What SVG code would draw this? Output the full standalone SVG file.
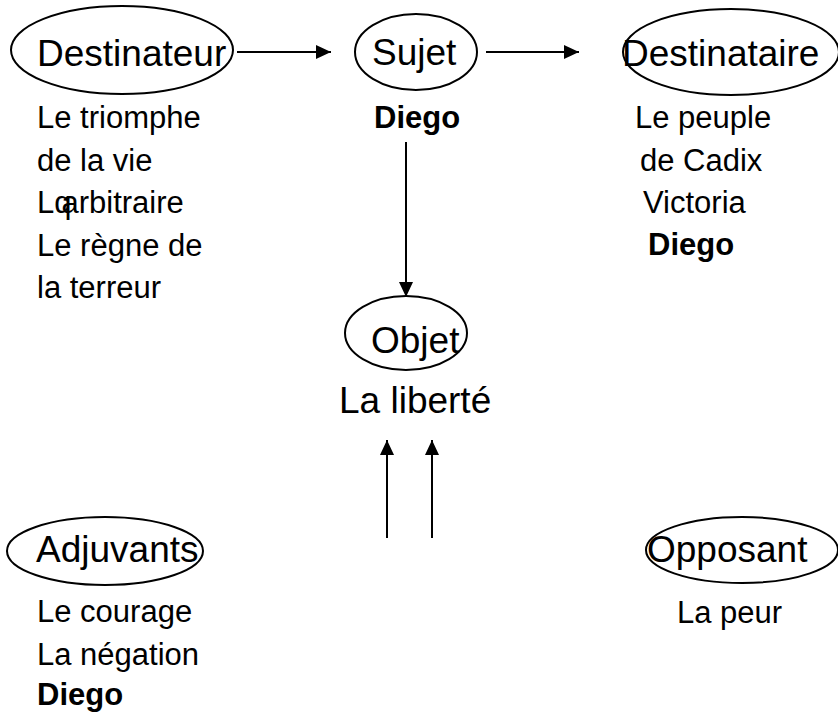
<svg xmlns="http://www.w3.org/2000/svg" width="838" height="714" viewBox="0 0 838 714">
<style>
  .n ellipse { fill: none; stroke: #000; stroke-width: 2; }
  text { font-family: "Liberation Sans", Arial, sans-serif; fill: #000; }
  .t { font-size: 37px; }
  .b { font-size: 31px; }
  .bold { font-weight: bold; }
  .c line { stroke: #000; stroke-width: 2; }
</style>
<defs>
  <marker id="ah" viewBox="0 0 15 14" refX="15" refY="7" markerWidth="15" markerHeight="14" markerUnits="userSpaceOnUse" orient="auto">
    <path d="M0,0 L15,7 L0,14 Z" fill="#000"/>
  </marker>
</defs>
<rect width="838" height="714" fill="#fff"/>
<g id="connectors" class="c">
  <line x1="237" y1="52" x2="331" y2="52" marker-end="url(#ah)"/>
  <line x1="486" y1="52" x2="579" y2="52" marker-end="url(#ah)"/>
  <line x1="406" y1="142" x2="406" y2="297" marker-end="url(#ah)"/>
  <line x1="387" y1="538" x2="387" y2="440" marker-end="url(#ah)"/>
  <line x1="432" y1="538" x2="432" y2="440" marker-end="url(#ah)"/>
</g>
<g id="destinateur" class="n">
  <ellipse cx="122" cy="50" rx="111" ry="44"/>
  <text class="t" x="37" y="66">Destinateur</text>
  <text class="b" x="37" y="128">Le triomphe</text>
  <text class="b" x="37" y="171">de la vie</text>
  <text class="b" x="37" y="213">Lq<tspan dx="-10">arbitraire</tspan></text>
  <text class="b" x="37" y="256">Le règne de</text>
  <text class="b" x="37" y="298">la terreur</text>
</g>
<g id="sujet" class="n">
  <ellipse cx="416" cy="52" rx="61" ry="38"/>
  <text class="t" x="372" y="65">Sujet</text>
  <text class="b bold" x="374" y="128">Diego</text>
</g>
<g id="destinataire" class="n">
  <ellipse cx="731" cy="52" rx="108" ry="43"/>
  <text class="t" x="622" y="66">Destinataire</text>
  <text class="b" x="635" y="128">Le peuple</text>
  <text class="b" x="640" y="171">de Cadix</text>
  <text class="b" x="643" y="213">Victoria</text>
  <text class="b bold" x="648" y="255">Diego</text>
</g>
<g id="objet" class="n">
  <ellipse cx="406" cy="333" rx="61" ry="37"/>
  <text class="t" x="371" y="353">Objet</text>
  <text class="t" x="339" y="413">La liberté</text>
</g>
<g id="adjuvants" class="n">
  <ellipse cx="105" cy="551" rx="98" ry="34"/>
  <text class="t" x="36" y="562">Adjuvants</text>
  <text class="b" x="37" y="622">Le courage</text>
  <text class="b" x="37" y="665">La négation</text>
  <text class="b bold" x="37" y="705">Diego</text>
</g>
<g id="opposant" class="n">
  <ellipse cx="742" cy="550" rx="96" ry="33"/>
  <text class="t" x="647" y="562">Opposant</text>
  <text class="b" x="677" y="623">La peur</text>
</g>
</svg>
